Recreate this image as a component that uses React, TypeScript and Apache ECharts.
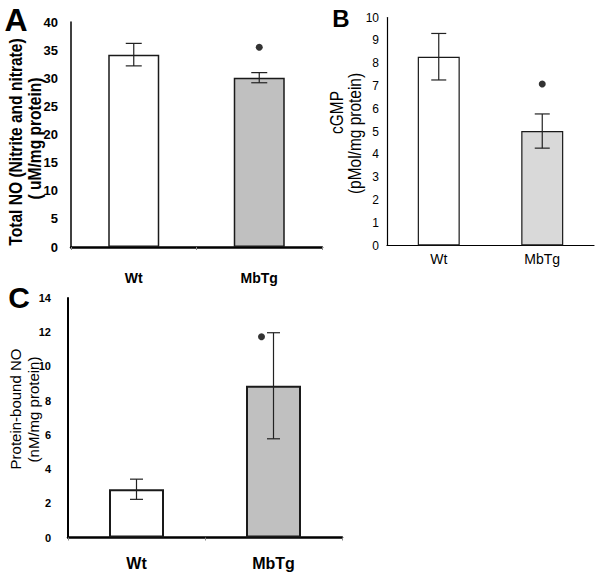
import React, { useEffect, useRef } from "react";
import * as echarts from "echarts";

const categories = ["Wt", "MbTg"];
const totalNO = [34.2, 30.1];
const totalNOErr = [2.0, 0.9];
const totalNOSig = [35.5];
const cgmp = [8.28, 5.02];
const cgmpErr = [1.02, 0.75];
const cgmpSig = [7.08];
const boundNO = [2.82, 8.87];
const boundNOErr = [0.59, 3.1];
const boundNOSig = [11.73];

const SANS = "'Liberation Sans', Arial, sans-serif";

function errRender(cap: number) {
  return (params: any, api: any) => {
    const x = api.value(0);
    const v = api.value(1);
    const e = api.value(2);
    const hi = api.coord([x, v + e]);
    const lo = api.coord([x, v - e]);
    const st = { stroke: "#222", lineWidth: 1.2 };
    return {
      type: "group",
      children: [
        { type: "line", shape: { x1: hi[0], y1: hi[1], x2: lo[0], y2: lo[1] }, style: st },
        { type: "line", shape: { x1: hi[0] - cap, y1: hi[1], x2: hi[0] + cap, y2: hi[1] }, style: st },
        { type: "line", shape: { x1: lo[0] - cap, y1: lo[1], x2: lo[0] + cap, y2: lo[1] }, style: st },
      ],
    };
  };
}

export default function App() {
  const ref = useRef<HTMLDivElement>(null);
  useEffect(() => {
    if (!ref.current) return;
    const chart = echarts.init(ref.current, undefined, { renderer: "svg" });
    const fills = ["#ffffff", "#c0c0c0"];
    const fillsB = ["#ffffff", "#d9d9d9"];
    const barData = (vals: number[], f: string[]) =>
      vals.map((v, i) => ({ value: v, itemStyle: { color: f[i] } }));
    const errData = (vals: number[], errs: number[]) => vals.map((v, i) => [i, v, errs[i]]);

    const option: any = {
      animation: false,
      backgroundColor: "#ffffff",
      grid: [
        { left: 71, top: 22, width: 251, height: 225 },
        { left: 387, top: 17.5, width: 207, height: 228 },
        { left: 68, top: 298, width: 274, height: 239.5 },
      ],
      xAxis: [
        {
          type: "category", gridIndex: 0, data: categories,
          axisLine: { lineStyle: { color: "#000", width: 2.5 } },
          axisTick: { show: true, length: 3, lineStyle: { color: "#888" } },
          axisLabel: { color: "#000", fontFamily: SANS, fontWeight: "bold", fontSize: 14, margin: 24 },
        },
        {
          type: "category", gridIndex: 1, data: categories,
          axisLine: { lineStyle: { color: "#000", width: 1.2 } },
          axisTick: { show: false },
          axisLabel: { color: "#000", fontFamily: SANS, fontSize: 14, margin: 6 },
        },
        {
          type: "category", gridIndex: 2, data: categories,
          axisLine: { lineStyle: { color: "#000", width: 2.5 } },
          axisTick: { show: true, length: 3, lineStyle: { color: "#888" } },
          axisLabel: { color: "#000", fontFamily: SANS, fontWeight: "bold", fontSize: 16, margin: 18 },
        },
      ],
      yAxis: [
        {
          type: "value", gridIndex: 0, min: 0, max: 40, interval: 5,
          axisLine: { show: true, lineStyle: { color: "#000", width: 1.5 } },
          axisTick: { show: false }, splitLine: { show: false },
          axisLabel: { color: "#000", fontFamily: SANS, fontWeight: "bold", fontSize: 13, margin: 13 },
        },
        {
          type: "value", gridIndex: 1, min: 0, max: 10, interval: 1,
          axisLine: { show: true, lineStyle: { color: "#000", width: 1.2 } },
          axisTick: { show: false }, splitLine: { show: false },
          axisLabel: { color: "#000", fontFamily: SANS, fontSize: 12, margin: 8 },
        },
        {
          type: "value", gridIndex: 2, min: 0, max: 14, interval: 2,
          axisLine: { show: true, lineStyle: { color: "#000", width: 2 } },
          axisTick: { show: false }, splitLine: { show: false },
          axisLabel: { color: "#000", fontFamily: SANS, fontWeight: "bold", fontSize: 11, margin: 17 },
        },
      ],
      series: [
        {
          type: "bar", xAxisIndex: 0, yAxisIndex: 0, barWidth: 51,
          data: barData(totalNO, fills),
          itemStyle: { borderColor: "#1a1a1a", borderWidth: 1.5 },
        },
        {
          type: "bar", xAxisIndex: 1, yAxisIndex: 1, barWidth: 42,
          data: barData(cgmp, fillsB),
          itemStyle: { borderColor: "#1a1a1a", borderWidth: 1.2 },
        },
        {
          type: "bar", xAxisIndex: 2, yAxisIndex: 2, barWidth: 55,
          data: barData(boundNO, fills),
          itemStyle: { borderColor: "#1a1a1a", borderWidth: 2 },
        },
        { type: "custom", xAxisIndex: 0, yAxisIndex: 0, data: errData(totalNO, totalNOErr), renderItem: errRender(8), z: 5 },
        { type: "custom", xAxisIndex: 1, yAxisIndex: 1, data: errData(cgmp, cgmpErr), renderItem: errRender(7.5), z: 5 },
        { type: "custom", xAxisIndex: 2, yAxisIndex: 2, data: errData(boundNO, boundNOErr), renderItem: errRender(6.5), z: 5 },
        {
          type: "scatter", xAxisIndex: 0, yAxisIndex: 0, symbol: "circle", symbolSize: 7,
          itemStyle: { color: "#000" }, data: totalNOSig.map((v) => [1, v]),
        },
        {
          type: "scatter", xAxisIndex: 1, yAxisIndex: 1, symbol: "circle", symbolSize: 7,
          itemStyle: { color: "#000" }, data: cgmpSig.map((v) => [1, v]),
        },
        {
          type: "scatter", xAxisIndex: 2, yAxisIndex: 2, symbol: "circle", symbolSize: 7,
          symbolOffset: [-12, 0],
          itemStyle: { color: "#000" }, data: boundNOSig.map((v) => [1, v]),
        },
      ],
      graphic: [
        { type: "text", x: 16, y: 20, style: { text: "A", font: "bold 32px 'Liberation Sans', Arial", fill: "#000", align: "center", verticalAlign: "middle" } },
        { type: "text", x: 341, y: 18.5, style: { text: "B", font: "bold 24px 'Liberation Sans', Arial", fill: "#000", align: "center", verticalAlign: "middle" } },
        { type: "text", x: 19, y: 297.5, style: { text: "C", font: "bold 30px 'Liberation Sans', Arial", fill: "#000", align: "center", verticalAlign: "middle" } },
        { type: "text", x: 15, y: 142, rotation: Math.PI / 2, scaleX: 0.82, style: { text: "Total NO (Nitrite and nitrate)", font: "bold 19px " + SANS, fill: "#000", align: "center", verticalAlign: "middle" } },
        { type: "text", x: 34.5, y: 138.5, rotation: Math.PI / 2, scaleX: 0.82, style: { text: "( uM/mg protein)", font: "bold 19px " + SANS, fill: "#000", align: "center", verticalAlign: "middle" } },
        { type: "text", x: 336.7, y: 112.5, rotation: Math.PI / 2, scaleX: 0.86, style: { text: "cGMP", font: "18px " + SANS, fill: "#000", align: "center", verticalAlign: "middle" } },
        { type: "text", x: 355, y: 133.5, rotation: Math.PI / 2, scaleX: 0.86, style: { text: "(pMol/mg protein)", font: "18px " + SANS, fill: "#000", align: "center", verticalAlign: "middle" } },
        { type: "text", x: 15, y: 409, rotation: Math.PI / 2, style: { text: "Protein-bound NO", font: "15px " + SANS, fill: "#000", align: "center", verticalAlign: "middle" } },
        { type: "text", x: 33, y: 409.5, rotation: Math.PI / 2, style: { text: "(nM/mg protein)", font: "15px " + SANS, fill: "#000", align: "center", verticalAlign: "middle" } },
      ],
    };
    chart.setOption(option);
    return () => chart.dispose();
  }, []);
  return (
    <div
      ref={ref}
      style={{ position: "fixed", left: 0, top: 0, width: 602, height: 577, background: "#fff" }}
    />
  );
}
